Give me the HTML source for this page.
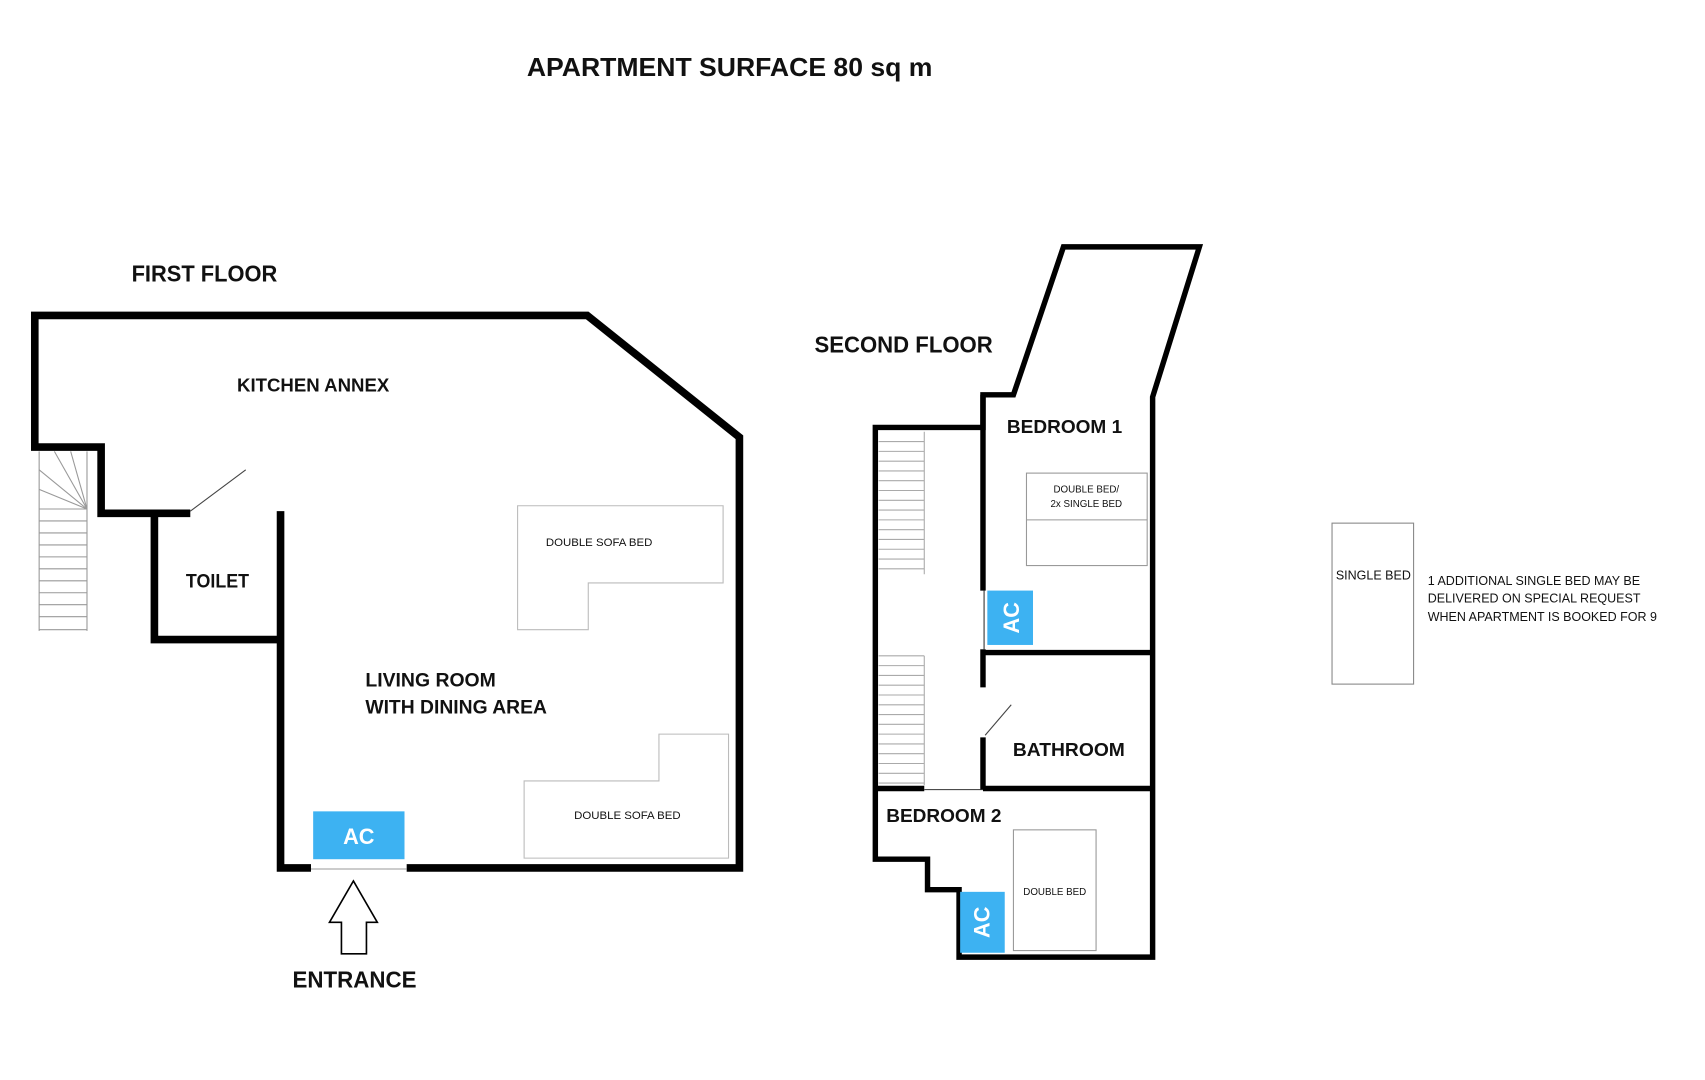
<!DOCTYPE html>
<html><head><meta charset="utf-8"><style>
html,body{margin:0;padding:0;background:#fff;}
svg{display:block}
text{font-family:"Liberation Sans",sans-serif;fill:#111}
.b{font-weight:bold}
</style></head><body>
<svg width="1705" height="1080" viewBox="0 0 1568 993" preserveAspectRatio="none" xmlns="http://www.w3.org/2000/svg">
<rect width="1568" height="993" fill="#fff"/>
<text x="671" y="70" class="b" font-size="24" text-anchor="middle" textLength="373" lengthAdjust="spacingAndGlyphs">APARTMENT SURFACE 80 sq m</text>

<!-- FIRST FLOOR -->
<text x="188" y="259" class="b" font-size="21" text-anchor="middle" textLength="134" lengthAdjust="spacingAndGlyphs">FIRST FLOOR</text>
<g fill="none" stroke="#000" stroke-width="7" stroke-linejoin="miter">
<polyline points="374,798 680,798 680,402 540,290 32,290 32,411 93,411 93,472 175,472"/>
<polyline points="286,798 258,798 258,470"/>
<polyline points="258,588 142,588 142,472"/>
</g>
<line x1="175" y1="470" x2="226" y2="432" stroke="#444" stroke-width="1"/>
<line x1="286" y1="799" x2="374" y2="799" stroke="#999" stroke-width="1"/>
<!-- stairs -->
<g stroke="#999" stroke-width="1" fill="none">
<line x1="36" y1="415" x2="36" y2="580"/><line x1="80" y1="415" x2="80" y2="580"/>
<line x1="36" y1="468" x2="80" y2="468"/><line x1="36" y1="479" x2="80" y2="479"/><line x1="36" y1="490" x2="80" y2="490"/><line x1="36" y1="501" x2="80" y2="501"/><line x1="36" y1="512" x2="80" y2="512"/><line x1="36" y1="523" x2="80" y2="523"/><line x1="36" y1="534" x2="80" y2="534"/><line x1="36" y1="545" x2="80" y2="545"/><line x1="36" y1="556" x2="80" y2="556"/><line x1="36" y1="567" x2="80" y2="567"/><line x1="36" y1="579" x2="80" y2="579"/>
<line x1="80" y1="468" x2="36" y2="432"/><line x1="80" y1="468" x2="36" y2="450"/><line x1="80" y1="468" x2="50" y2="415"/><line x1="80" y1="468" x2="65" y2="415"/>
</g>
<g stroke="#bbb" stroke-width="1" fill="#fff">
<polygon points="476,465 665,465 665,536 541,536 541,579 476,579"/>
<polygon points="606,675 670,675 670,789 482,789 482,718 606,718"/>
</g>
<text x="551" y="502" font-size="10.5" text-anchor="middle">DOUBLE SOFA BED</text>
<text x="577" y="753" font-size="10.5" text-anchor="middle">DOUBLE SOFA BED</text>
<text x="288" y="360" class="b" font-size="17" text-anchor="middle" textLength="140" lengthAdjust="spacingAndGlyphs">KITCHEN ANNEX</text>
<text x="200" y="540" class="b" font-size="18" text-anchor="middle" textLength="58" lengthAdjust="spacingAndGlyphs">TOILET</text>
<text x="336" y="631" class="b" font-size="18" textLength="120" lengthAdjust="spacingAndGlyphs">LIVING ROOM</text>
<text x="336" y="656" class="b" font-size="18" textLength="167" lengthAdjust="spacingAndGlyphs">WITH DINING AREA</text>
<rect x="288" y="746" width="84" height="44" fill="#3db2f2"/>
<text x="330" y="776" class="b" font-size="20" text-anchor="middle" style="fill:#fff">AC</text>
<polygon points="325,810 347,848 337,848 337,877 314,877 314,848 303,848" fill="#fff" stroke="#000" stroke-width="1.5"/>
<text x="326" y="908" class="b" font-size="21" text-anchor="middle" textLength="114" lengthAdjust="spacingAndGlyphs">ENTRANCE</text>

<!-- SECOND FLOOR -->
<text x="749" y="324" class="b" font-size="21" textLength="164" lengthAdjust="spacingAndGlyphs">SECOND FLOOR</text>
<g fill="none" stroke="#000" stroke-width="5">
<polygon points="978,227 1103,227 1060,365 1060,880 882,880 882,818 853,818 853,790 805,790 805,393 904,393 904,363 932,363"/>
<line x1="904" y1="363" x2="904" y2="543"/>
<line x1="904" y1="597" x2="904" y2="632"/>
<line x1="904" y1="678" x2="904" y2="726"/>
<line x1="904" y1="600" x2="1060" y2="600"/>
<line x1="904" y1="725" x2="1060" y2="725"/>
<line x1="805" y1="725" x2="850" y2="725"/>
</g>
<line x1="905" y1="543" x2="905" y2="597" stroke="#333" stroke-width="1"/>
<line x1="850" y1="726" x2="904" y2="726" stroke="#333" stroke-width="1"/>
<line x1="906" y1="676" x2="930" y2="648" stroke="#444" stroke-width="1"/>
<g stroke="#aaa" stroke-width="1">
<line x1="850" y1="397" x2="850" y2="528"/>
<line x1="808" y1="406" x2="850" y2="406"/><line x1="808" y1="415" x2="850" y2="415"/><line x1="808" y1="424" x2="850" y2="424"/><line x1="808" y1="433" x2="850" y2="433"/><line x1="808" y1="442" x2="850" y2="442"/><line x1="808" y1="451" x2="850" y2="451"/><line x1="808" y1="460" x2="850" y2="460"/><line x1="808" y1="469" x2="850" y2="469"/><line x1="808" y1="478" x2="850" y2="478"/><line x1="808" y1="487" x2="850" y2="487"/><line x1="808" y1="496" x2="850" y2="496"/><line x1="808" y1="505" x2="850" y2="505"/><line x1="808" y1="514" x2="850" y2="514"/><line x1="808" y1="523" x2="850" y2="523"/>
<line x1="850" y1="603" x2="850" y2="722"/>
<line x1="808" y1="603" x2="850" y2="603"/><line x1="808" y1="612" x2="850" y2="612"/><line x1="808" y1="621" x2="850" y2="621"/><line x1="808" y1="630" x2="850" y2="630"/><line x1="808" y1="639" x2="850" y2="639"/><line x1="808" y1="648" x2="850" y2="648"/><line x1="808" y1="657" x2="850" y2="657"/><line x1="808" y1="666" x2="850" y2="666"/><line x1="808" y1="675" x2="850" y2="675"/><line x1="808" y1="684" x2="850" y2="684"/><line x1="808" y1="693" x2="850" y2="693"/><line x1="808" y1="702" x2="850" y2="702"/><line x1="808" y1="711" x2="850" y2="711"/><line x1="808" y1="720" x2="850" y2="720"/>
</g>
<text x="979" y="398" class="b" font-size="17" text-anchor="middle" textLength="106" lengthAdjust="spacingAndGlyphs">BEDROOM 1</text>
<rect x="944" y="435" width="111" height="85" fill="#fff" stroke="#999" stroke-width="1"/>
<line x1="944" y1="478" x2="1055" y2="478" stroke="#999" stroke-width="1"/>
<text x="999" y="453" font-size="9" text-anchor="middle">DOUBLE BED/</text>
<text x="999" y="466" font-size="9" text-anchor="middle">2x SINGLE BED</text>
<rect x="908" y="543" width="42" height="50" fill="#3db2f2"/>
<text transform="translate(937,568) rotate(-90)" class="b" font-size="20" text-anchor="middle" style="fill:#fff">AC</text>
<text x="983" y="695" class="b" font-size="17" text-anchor="middle" textLength="103" lengthAdjust="spacingAndGlyphs">BATHROOM</text>
<text x="815" y="756" class="b" font-size="17" textLength="106" lengthAdjust="spacingAndGlyphs">BEDROOM 2</text>
<rect x="932" y="763" width="76" height="111" fill="#fff" stroke="#999" stroke-width="1"/>
<text x="970" y="823" font-size="9" text-anchor="middle">DOUBLE BED</text>
<rect x="883" y="820" width="41" height="56" fill="#3db2f2"/>
<text transform="translate(910,848) rotate(-90)" class="b" font-size="20" text-anchor="middle" style="fill:#fff">AC</text>

<!-- extra -->
<rect x="1225" y="481" width="75" height="148" fill="#fff" stroke="#888" stroke-width="1"/>
<text x="1263" y="533" font-size="11.5" text-anchor="middle">SINGLE BED</text>
<text x="1313" y="538" font-size="11.5">1 ADDITIONAL SINGLE BED MAY BE</text>
<text x="1313" y="554" font-size="11.5">DELIVERED ON SPECIAL REQUEST</text>
<text x="1313" y="571" font-size="11.5">WHEN APARTMENT IS BOOKED FOR 9</text>
</svg>
</body></html>
